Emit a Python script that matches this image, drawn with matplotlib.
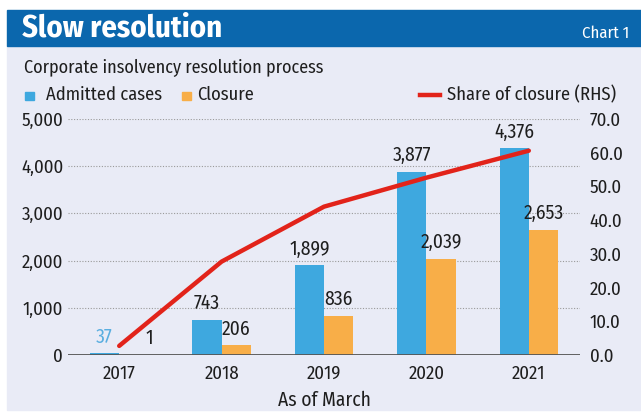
import matplotlib
matplotlib.use('Agg')
import matplotlib.pyplot as plt
from matplotlib import font_manager as fm
from matplotlib.patches import Rectangle
from matplotlib.lines import Line2D
from matplotlib.ticker import FuncFormatter, FixedLocator

# pick a condensed sans if one is installed
installed = {f.name for f in fm.fontManager.ttflist}
wanted = ['Fira Sans Condensed', 'Roboto Condensed', 'PT Sans Narrow', 'Archivo Narrow',
          'IBM Plex Sans Condensed', 'Encode Sans Condensed', 'Liberation Sans Narrow']
FONT = next((f for f in wanted if f in installed), 'Liberation Sans')
plt.rcParams['font.family'] = [FONT, 'DejaVu Sans']

years = ['2017', '2018', '2019', '2020', '2021']
admitted = [37, 743, 1899, 3877, 4376]
closure = [1, 206, 836, 2039, 2653]
share = [2.7, 27.7, 44.0, 52.6, 60.6]  # RHS, %

BLUE = '#3ea8df'
ORANGE = '#f8ae48'
RED = '#e2231a'
HEADER = '#0b67ad'
PANEL = '#e9ebf6'
TXT = '#1e1e1e'

W, H = 641, 417
fig = plt.figure(figsize=(W / 100, H / 100), dpi=100)

def fx(px): return px / W
def fy(py): return 1 - py / H

# background panel + header band
fig.patches.append(Rectangle((fx(7), fy(410)), fx(641) - fx(7), fy(46) - fy(410),
                             transform=fig.transFigure, color=PANEL, zorder=-5))
fig.patches.append(Rectangle((fx(7), fy(46)), fx(641) - fx(7), fy(10) - fy(46),
                             transform=fig.transFigure, color=HEADER, zorder=-4))
fig.text(fx(22), fy(28.5), 'Slow resolution', color='white', fontsize=22, fontweight='bold',
         va='center', ha='left')
fig.text(fx(629), fy(33), 'Chart 1', color='white', fontsize=12, va='center', ha='right')
fig.text(fx(24), fy(68), 'Corporate insolvency resolution process', color=TXT, fontsize=13,
         va='center', ha='left')

# legend
fig.patches.append(Rectangle((fx(25), fy(100)), fx(8.5), fy(0) - fy(8.5),
                             transform=fig.transFigure, color=BLUE))
fig.text(fx(46), fy(95), 'Admitted cases', color=TXT, fontsize=13.3, va='center', ha='left')
fig.patches.append(Rectangle((fx(182), fy(100)), fx(8.5), fy(0) - fy(8.5),
                             transform=fig.transFigure, color=ORANGE))
fig.text(fx(197), fy(95), 'Closure', color=TXT, fontsize=13.3, va='center', ha='left')
fig.lines.append(Line2D([fx(420), fx(440)], [fy(95), fy(95)], transform=fig.transFigure,
                        color=RED, lw=3.2))
fig.text(fx(447), fy(95), 'Share of closure (RHS)', color=TXT, fontsize=13.3, va='center', ha='left')

# plot area
ax = fig.add_axes([fx(68), fy(355), fx(580) - fx(68), fy(119) - fy(355)])
ax.set_facecolor('none')
x = list(range(len(years)))
bw = 0.285
ax.bar([i - bw / 2 for i in x], admitted, width=bw, color=BLUE, zorder=3)
ax.bar([i + bw / 2 for i in x], closure, width=bw, color=ORANGE, zorder=3)

for i in x:
    c = '#5aaee0' if i == 0 else TXT
    ax.text(i - bw / 2, admitted[i] + 140, f'{admitted[i]:,}', ha='center', va='bottom',
            fontsize=14, color=c, zorder=5)
    # the tiny 2017 closure label sits a bit right, clear of the line
    dx = 0.15 if i == 0 else 0
    ax.text(i + bw / 2 + dx, closure[i] + 140, f'{closure[i]:,}', ha='center', va='bottom',
            fontsize=14, color=TXT, zorder=5)

ax.set_xlim(-0.5, 4.5)
ax.set_ylim(0, 5000)
ax.set_yticks([0, 1000, 2000, 3000, 4000, 5000])
ax.yaxis.set_major_formatter(FuncFormatter(lambda v, p: f'{int(v):,}'))
ax.set_xticks(x)
ax.set_xticklabels(years)
ax.tick_params(length=0, labelsize=13.5, colors=TXT)
ax.tick_params(axis='x', pad=7)
ax.tick_params(axis='y', pad=3.5)
for s in ax.spines.values():
    s.set_visible(False)
for v in [1000, 2000, 3000, 4000, 5000]:
    ax.axhline(v, color='#9a9a9a', lw=0.8, ls=(0, (1, 1.5)), zorder=1)
ax.axhline(0, color='#555555', lw=1.3, zorder=4)
ax.set_xlabel('As of March', fontsize=14, color=TXT, labelpad=6)

ax2 = ax.twinx()
ax2.set_ylim(0, 70)
ax2.plot(x, share, color=RED, lw=3.2, solid_capstyle='round', zorder=6)
ax2.yaxis.set_major_locator(FixedLocator([0, 10, 20, 30, 40, 50, 60, 70]))
ax2.yaxis.set_major_formatter(FuncFormatter(lambda v, p: f'{v:.1f}'))
ax2.tick_params(length=0, labelsize=13.5, colors=TXT, pad=7)
for s in ax2.spines.values():
    s.set_visible(False)

fig.savefig('out.png', dpi=100)
